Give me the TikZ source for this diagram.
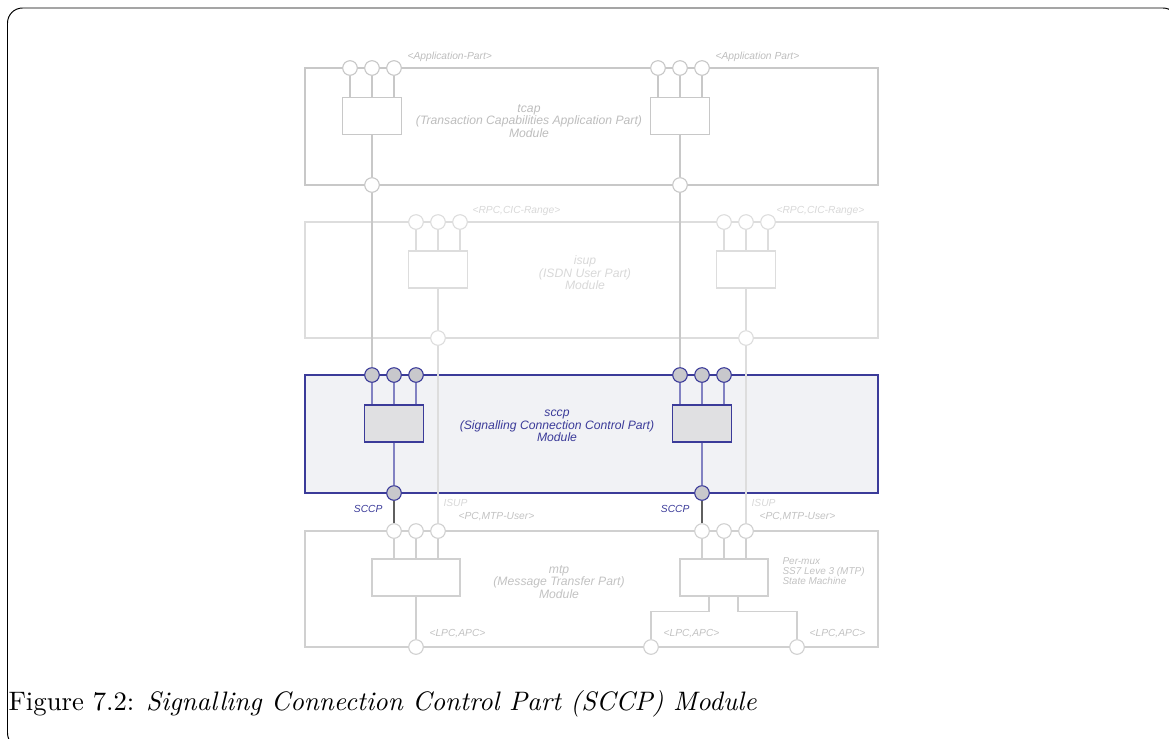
\documentclass[tikz,border=0pt]{standalone}
\usepackage{fontspec}
\setsansfont{Liberation Sans}
\usepackage{tikz}

\definecolor{tcapgray}{HTML}{C8C8C8}
\definecolor{tcaptext}{HTML}{BDBDBD}
\definecolor{isupgray}{HTML}{DDDDDD}
\definecolor{isuptext}{HTML}{D8D8D8}
\definecolor{mtpgray}{HTML}{D0D0D0}
\definecolor{mtptext}{HTML}{C2C2C2}
\definecolor{sccpblue}{HTML}{3B3B99}
\definecolor{sccplink}{HTML}{8282C2}
\definecolor{sccpfill}{HTML}{F1F2F5}
\definecolor{sccpport}{HTML}{C8C8CC}
\definecolor{sccpblk}{HTML}{E0E0E2}
\definecolor{mtplink}{HTML}{5F5F5F}

\newdimen\pxu \pxu=0.361pt

\begin{document}
\begin{tikzpicture}[x=0.361pt,y=-0.361pt,
  modbox/.style={draw,inner sep=0,minimum width=573\pxu},
  port/.style={circle,draw,fill=white,inner sep=0,minimum size=14.6\pxu},
  blk/.style={draw,fill=white,inner sep=0,minimum width=59\pxu,minimum height=37\pxu},
  lbl/.style={font=\sffamily\itshape\fontsize{3.7}{4.5}\selectfont,inner sep=0},
  title/.style={inner sep=0,align=center,font=\sffamily\itshape\fontsize{4.4}{4.5}\selectfont}]
\useasboundingbox (0,0) rectangle (1169,738);
\draw[line width=0.35pt,rounded corners=15\pxu] (7.5,8) rectangle (1178,748);

% modules
\node[modbox,draw=tcapgray,minimum height=117\pxu] (tcap) at (591.5,126.5) {};
\node[modbox,draw=isupgray,minimum height=116\pxu] (isup) at (591.5,280) {};
\node[modbox,draw=sccpblue,fill=sccpfill,line width=0.5pt,minimum height=118\pxu] (sccp) at (591.5,434) {};
\node[modbox,draw=mtpgray,minimum height=116\pxu] (mtp) at (591.5,589) {};

\node[title,text=tcaptext] (tcaptitle) at (529,121) {tcap\\(Transaction Capabilities Application Part)\\Module};
\node[title,text=isuptext] (isuptitle) at (585,273) {isup\\(ISDN User Part)\\Module};
\node[title,text=sccpblue] (sccptitle) at (557,426) {sccp\\(Signalling Connection Control Part)\\Module};
\node[title,text=mtptext] (mtptitle) at (559,582) {mtp\\(Message Transfer Part)\\Module};

% tcap
\node[blk,draw=tcapgray] (tcapLblk) at (372,116) {};
\node[blk,draw=tcapgray] (tcapRblk) at (680,116) {};
\node[port,draw=tcapgray] (tcapL1) at (350,68) {};
\node[port,draw=tcapgray] (tcapL2) at (372,68) {};
\node[port,draw=tcapgray] (tcapL3) at (394,68) {};
\node[port,draw=tcapgray] (tcapR1) at (658,68) {};
\node[port,draw=tcapgray] (tcapR2) at (680,68) {};
\node[port,draw=tcapgray] (tcapR3) at (702,68) {};
\node[port,draw=tcapgray] (tcapLb) at (372,185) {};
\node[port,draw=tcapgray] (tcapRb) at (680,185) {};

% isup
\node[blk,draw=isupgray] (isupLblk) at (438,269.5) {};
\node[blk,draw=isupgray] (isupRblk) at (746,269.5) {};
\node[port,draw=isupgray] (isupL1) at (416,222) {};
\node[port,draw=isupgray] (isupL2) at (438,222) {};
\node[port,draw=isupgray] (isupL3) at (460,222) {};
\node[port,draw=isupgray] (isupR1) at (724,222) {};
\node[port,draw=isupgray] (isupR2) at (746,222) {};
\node[port,draw=isupgray] (isupR3) at (768,222) {};
\node[port,draw=isupgray] (isupLb) at (438,338) {};
\node[port,draw=isupgray] (isupRb) at (746,338) {};

% sccp
\node[blk,draw=sccpblue,fill=sccpblk] (sccpLblk) at (394,423.5) {};
\node[blk,draw=sccpblue,fill=sccpblk] (sccpRblk) at (702,423.5) {};
\node[port,draw=sccpblue,fill=sccpport] (sccpL1) at (372,375) {};
\node[port,draw=sccpblue,fill=sccpport] (sccpL2) at (394,375) {};
\node[port,draw=sccpblue,fill=sccpport] (sccpL3) at (416,375) {};
\node[port,draw=sccpblue,fill=sccpport] (sccpR1) at (680,375) {};
\node[port,draw=sccpblue,fill=sccpport] (sccpR2) at (702,375) {};
\node[port,draw=sccpblue,fill=sccpport] (sccpR3) at (724,375) {};
\node[port,draw=sccpblue,fill=sccpport] (sccpLb) at (394,493) {};
\node[port,draw=sccpblue,fill=sccpport] (sccpRb) at (702,493) {};

% mtp
\node[blk,draw=mtpgray,minimum width=88\pxu] (mtpLblk) at (416,577.5) {};
\node[blk,draw=mtpgray,minimum width=88\pxu] (mtpRblk) at (724,577.5) {};
\node[port,draw=mtpgray] (mtpL1) at (394,531) {};
\node[port,draw=mtpgray] (mtpL2) at (416,531) {};
\node[port,draw=mtpgray] (mtpL3) at (438,531) {};
\node[port,draw=mtpgray] (mtpR1) at (702,531) {};
\node[port,draw=mtpgray] (mtpR2) at (724,531) {};
\node[port,draw=mtpgray] (mtpR3) at (746,531) {};
\node[port,draw=mtpgray] (mtpLb) at (416,647) {};
\node[port,draw=mtpgray] (mtpRb1) at (651,647) {};
\node[port,draw=mtpgray] (mtpRb2) at (797,647) {};

% inner links
\draw[tcapgray] (tcapL1) -- (tcapL1 |- tcapLblk.north);
\draw[tcapgray] (tcapL2) -- (tcapLblk);
\draw[tcapgray] (tcapL3) -- (tcapL3 |- tcapLblk.north);
\draw[tcapgray] (tcapLblk) -- (tcapLb);
\draw[tcapgray] (tcapR1) -- (tcapR1 |- tcapRblk.north);
\draw[tcapgray] (tcapR2) -- (tcapRblk);
\draw[tcapgray] (tcapR3) -- (tcapR3 |- tcapRblk.north);
\draw[tcapgray] (tcapRblk) -- (tcapRb);

\draw[isupgray] (isupL1) -- (isupL1 |- isupLblk.north);
\draw[isupgray] (isupL2) -- (isupLblk);
\draw[isupgray] (isupL3) -- (isupL3 |- isupLblk.north);
\draw[isupgray] (isupLblk) -- (isupLb);
\draw[isupgray] (isupR1) -- (isupR1 |- isupRblk.north);
\draw[isupgray] (isupR2) -- (isupRblk);
\draw[isupgray] (isupR3) -- (isupR3 |- isupRblk.north);
\draw[isupgray] (isupRblk) -- (isupRb);

\draw[sccplink] (sccpL1) -- (sccpL1 |- sccpLblk.north);
\draw[sccplink] (sccpL2) -- (sccpLblk);
\draw[sccplink] (sccpL3) -- (sccpL3 |- sccpLblk.north);
\draw[sccplink] (sccpLblk) -- (sccpLb);
\draw[sccplink] (sccpR1) -- (sccpR1 |- sccpRblk.north);
\draw[sccplink] (sccpR2) -- (sccpRblk);
\draw[sccplink] (sccpR3) -- (sccpR3 |- sccpRblk.north);
\draw[sccplink] (sccpRblk) -- (sccpRb);

\draw[mtpgray] (mtpL1) -- (mtpL1 |- mtpLblk.north);
\draw[mtpgray] (mtpL2) -- (mtpLblk);
\draw[mtpgray] (mtpL3) -- (mtpL3 |- mtpLblk.north);
\draw[mtpgray] (mtpLblk) -- (mtpLb);
\draw[mtpgray] (mtpR1) -- (mtpR1 |- mtpRblk.north);
\draw[mtpgray] (mtpR2) -- (mtpRblk);
\draw[mtpgray] (mtpR3) -- (mtpR3 |- mtpRblk.north);
\draw[mtpgray] ([xshift=-15\pxu]mtpRblk.south) -- ++(0,15) -| (mtpRb1);
\draw[mtpgray] ([xshift=14\pxu]mtpRblk.south) -- ++(0,15) -| (mtpRb2);

% module to module
\draw[tcapgray] (tcapLb) -- (sccpL1);
\draw[tcapgray] (tcapRb) -- (sccpR1);
\draw[isupgray] (isupLb) -- (mtpL3);
\draw[isupgray] (isupRb) -- (mtpR3);
\draw[mtplink] (sccpLb) -- (mtpL1);
\draw[mtplink] (sccpRb) -- (mtpR1);

% port labels
\node[lbl,anchor=west,text=tcaptext] (tcapLlbl) at (407,57) {<Application-Part>};
\node[lbl,anchor=west,text=tcaptext] (tcapRlbl) at (715,57) {<Application Part>};
\node[lbl,anchor=west,text=isuptext] (isupLlbl) at (472,211) {<RPC,CIC-Range>};
\node[lbl,anchor=west,text=isuptext] (isupRlbl) at (776,211) {<RPC,CIC-Range>};
\node[lbl,anchor=east,text=sccpblue] (sccpLlbl) at (383,509) {SCCP};
\node[lbl,anchor=east,text=sccpblue] (sccpRlbl) at (690,509) {SCCP};
\node[lbl,anchor=west,text=isuptext] (isupLdown) at (443,503) {ISUP};
\node[lbl,anchor=west,text=isuptext] (isupRdown) at (751,503) {ISUP};
\node[lbl,anchor=west,text=mtptext] (mtpLlbl) at (458,517) {<PC,MTP-User>};
\node[lbl,anchor=west,text=mtptext] (mtpRlbl) at (759,517) {<PC,MTP-User>};
\node[lbl,anchor=west,text=mtptext] (mtpLblb) at (429,634) {<LPC,APC>};
\node[lbl,anchor=west,text=mtptext] (mtpRlbb1) at (663,634) {<LPC,APC>};
\node[lbl,anchor=west,text=mtptext] (mtpRlbb2) at (809,634) {<LPC,APC>};
\node[lbl,anchor=north west,align=left,text=mtptext,font=\sffamily\itshape\fontsize{3.6}{3.7}\selectfont] (permux) at (782,557) {Per-mux\\SS7 Leve 3 (MTP)\\State Machine};

\node[anchor=base west,inner sep=0,font=\fontsize{9.64}{11.5}\selectfont] (caption) at (8,710) {Figure 7.2: \textit{Signalling Connection Control Part (SCCP) Module}};
\end{tikzpicture}
\end{document}
